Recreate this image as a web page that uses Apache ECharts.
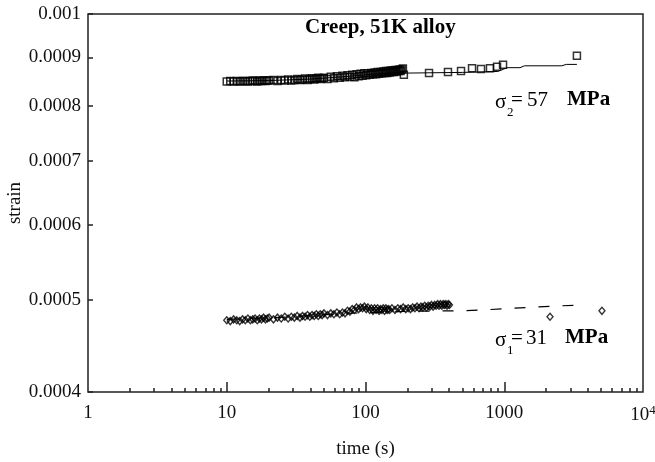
<!DOCTYPE html>
<html>
<head>
<meta charset="utf-8">
<script src="https://cdn.jsdelivr.net/npm/echarts@6/dist/echarts.min.js"></script>
<style>
html, body { margin: 0; padding: 0; background: #fff; }
#chart { width: 655px; height: 462px; }
</style>
</head>
<body>
<div id="chart"></div>
<script>
// tick values (time in s, strain)
var xTicks = [1, 10, 100, 1000, 10000];
var xTickLabels = ['1', '10', '100', '1000', '10{sup|4}'];
var yTicks = [0.0004, 0.0005, 0.0006, 0.0007, 0.0008, 0.0009, 0.001];
var yTickLabels = ['0.0004', '0.0005', '0.0006', '0.0007', '0.0008', '0.0009', '0.001'];

// sigma2 = 57 MPa, measured points (squares), strain in units of 1e-4
var upTime = [10, 10.6, 11.2, 11.8, 12.4, 13, 13.6, 14.2, 14.8, 15.4, 16, 16.6, 17.2, 17.8, 18.4, 19, 19.6,
    20.2, 21.7, 23.2, 24.7, 26.2, 27.7, 29.2, 30.7, 32.2, 33.7, 35.2, 36.7, 38.2, 39.7, 41.2, 42.7, 44.2, 45.7, 47.2, 48.7,
    50.2, 53.2, 56.2, 59.2, 62.2, 65.2, 68.2, 71.2, 74.2, 77.2, 80.2, 83.2, 86.2, 89.2, 92.2, 95.2, 98.2, 101.2, 104.2, 107.2,
    110.2, 113.2, 116.2, 119.2, 122.2, 125.2, 128.2, 131.2, 134.2, 137.2, 140.2, 143.2, 146.2, 149.2, 152.2, 155.2, 158.2,
    161.2, 164.2, 167.2, 170.2, 173.2, 176.2, 179.2, 182.2,
    186, 189, 287, 393, 488, 586, 680, 789, 887, 980, 3340];
var upStrain = [8.49, 8.50, 8.49, 8.50, 8.49, 8.50, 8.50, 8.49, 8.50, 8.51, 8.50, 8.49, 8.51, 8.50, 8.51, 8.50, 8.51,
    8.51, 8.52, 8.50, 8.52, 8.51, 8.53, 8.51, 8.52, 8.54, 8.52, 8.53, 8.55, 8.52, 8.54, 8.56, 8.53, 8.55, 8.57, 8.54, 8.56,
    8.57, 8.54, 8.59, 8.56, 8.60, 8.57, 8.61, 8.58, 8.62, 8.59, 8.63, 8.58, 8.64, 8.60, 8.65, 8.61, 8.66, 8.62, 8.66, 8.63,
    8.67, 8.64, 8.68, 8.64, 8.69, 8.65, 8.69, 8.66, 8.70, 8.67, 8.71, 8.67, 8.71, 8.68, 8.72, 8.69, 8.72,
    8.69, 8.73, 8.70, 8.73, 8.71, 8.74, 8.71, 8.74,
    8.76, 8.63, 8.67, 8.69, 8.71, 8.77, 8.75, 8.77, 8.80, 8.84, 9.04];
// sigma2 model curve (solid)
var upFitTime = [10, 20, 40, 70, 100, 150, 190, 500, 900, 1050, 1300, 1400, 2600, 2800, 3340];
var upFitStrain = [8.50, 8.51, 8.54, 8.59, 8.63, 8.67, 8.665, 8.68, 8.70, 8.78, 8.78, 8.82, 8.82, 8.85, 8.85];

// sigma1 = 31 MPa, measured points (diamonds), strain in units of 1e-4
var lowTime = [10, 10.6, 11.2, 11.8, 12.4, 13, 13.6, 14.2, 14.8, 15.4, 16, 16.6, 17.2, 17.8, 18.4, 19, 19.6,
    20.2, 21.7, 23.2, 24.7, 26.2, 27.7, 29.2, 30.7, 32.2, 33.7, 35.2, 36.7, 38.2, 39.7, 41.2, 42.7, 44.2, 45.7, 47.2, 48.7,
    50.2, 53.2, 56.2, 59.2, 62.2, 65.2, 68.2, 71.2, 74.2, 77.2, 80.2, 83.2, 86.2, 89.2, 92.2, 95.2, 98.2, 101.2, 104.2, 107.2,
    110.2, 113.2, 116.2, 119.2, 122.2, 125.2, 128.2, 131.2, 134.2, 137.2, 140.2, 143.2, 146.2, 149.2,
    155, 163, 171, 179, 187, 195, 203, 211, 219, 227, 235, 243, 251, 259, 267, 275, 283, 291, 299, 307, 315, 323,
    331, 339, 347, 355, 363, 371, 379, 387, 395, 403,
    2137, 5060];
var lowStrain = [4.76, 4.75, 4.77, 4.76, 4.75, 4.77, 4.76, 4.78, 4.76, 4.77, 4.78, 4.76, 4.78, 4.77, 4.79, 4.77, 4.78,
    4.79, 4.77, 4.79, 4.78, 4.80, 4.78, 4.80, 4.79, 4.81, 4.79, 4.81, 4.80, 4.82, 4.80, 4.82, 4.81, 4.83, 4.81, 4.83, 4.82,
    4.84, 4.82, 4.84, 4.83, 4.85, 4.83, 4.85, 4.84, 4.87, 4.86, 4.89, 4.88, 4.91, 4.89, 4.91, 4.90, 4.92, 4.89, 4.91, 4.88,
    4.90, 4.87, 4.90, 4.88, 4.90, 4.87, 4.89, 4.88, 4.90, 4.87, 4.90, 4.88, 4.89, 4.88,
    4.90, 4.88, 4.90, 4.89, 4.91, 4.89, 4.90, 4.89, 4.91, 4.90, 4.92, 4.90, 4.92, 4.91, 4.93, 4.91, 4.93, 4.92, 4.94, 4.92, 4.94, 4.93,
    4.95, 4.93, 4.95, 4.93, 4.95, 4.94, 4.95, 4.93, 4.95, 4.94,
    4.80, 4.87];
// sigma1 model curve (dashed)
var lowFitTime = [10, 30, 70, 120, 200, 480, 700, 1000, 1500, 2200, 3700];
var lowFitStrain = [4.77, 4.80, 4.84, 4.85, 4.865, 4.87, 4.88, 4.895, 4.91, 4.925, 4.94];

var FONT = '"Liberation Serif", "Times New Roman", serif';

function toLogPairs(t, s) {
    return t.map(function (v, i) {
        return [Math.log10(v), Math.log10(s[i] * 1e-4)];
    });
}

var xMajorLog = xTicks.map(Math.log10);
var xMinorLog = [];
for (var d = 0; d < 4; d++) {
    for (var k = 2; k <= 9; k++) {
        xMinorLog.push(Math.log10(k * Math.pow(10, d)));
    }
}
var yLog = yTicks.map(Math.log10);

function pickLabel(v, pos, labels) {
    var best = 0;
    for (var i = 1; i < pos.length; i++) {
        if (Math.abs(pos[i] - v) < Math.abs(pos[best] - v)) best = i;
    }
    return labels[best];
}

function txt(x, y, text, font) {
    return { type: 'text', x: x, y: y, style: { text: text, font: font, fill: '#000', verticalAlign: 'middle' } };
}

var chart = echarts.init(document.getElementById('chart'));
var option = {
    animation: false,
    backgroundColor: '#fff',
    grid: {
        left: 88, right: 12, top: 14, bottom: 70,
        outerBoundsMode: 'none',
        show: true, borderColor: '#222', borderWidth: 1.5, backgroundColor: 'transparent'
    },
    xAxis: [
        {
            type: 'value', min: 0, max: 4,
            name: 'time (s)', nameLocation: 'middle', nameGap: 48,
            nameTextStyle: { fontFamily: FONT, fontSize: 19, color: '#111' },
            axisLine: { show: false },
            splitLine: { show: false },
            axisTick: {
                show: true, inside: true, length: 10,
                customValues: xMajorLog.slice(1, 4),
                lineStyle: { color: '#222', width: 1.5 }
            },
            axisLabel: {
                customValues: xMajorLog,
                margin: 12,
                fontFamily: FONT, fontSize: 19, color: '#111',
                formatter: function (v) { return pickLabel(v, xMajorLog, xTickLabels); },
                rich: {
                    sup: { fontFamily: FONT, fontSize: 13, color: '#111', padding: [0, 0, 10, 0] }
                }
            }
        },
        {
            type: 'value', min: 0, max: 4, position: 'bottom',
            axisLine: { show: false },
            splitLine: { show: false },
            axisLabel: { show: false },
            axisTick: {
                show: true, inside: true, length: 4,
                customValues: xMinorLog,
                lineStyle: { color: '#222', width: 1.5 }
            }
        }
    ],
    yAxis: {
        type: 'value', min: yLog[0], max: yLog[yLog.length - 1],
        axisLine: { show: false },
        splitLine: { show: false },
        axisTick: {
            show: true, inside: true, length: 5,
            customValues: yLog,
            lineStyle: { color: '#222', width: 1.5 }
        },
        axisLabel: {
            customValues: yLog,
            margin: 7,
            fontFamily: FONT, fontSize: 19, color: '#111',
            formatter: function (v) { return pickLabel(v, yLog, yTickLabels); }
        }
    },
    series: [
        {
            type: 'line', data: toLogPairs(upFitTime, upFitStrain),
            showSymbol: false, smooth: false, z: 1,
            lineStyle: { color: '#000', width: 1 }
        },
        {
            type: 'scatter', data: toLogPairs(upTime, upStrain),
            symbol: 'rect', symbolSize: 7, z: 3,
            itemStyle: { color: 'rgba(255,255,255,0)', borderColor: '#000', borderWidth: 1.5 }
        },
        {
            type: 'line', data: toLogPairs(lowFitTime, lowFitStrain),
            showSymbol: false, smooth: false, z: 1,
            lineStyle: { color: '#000', width: 1.2, type: [11, 13] }
        },
        {
            type: 'scatter', data: toLogPairs(lowTime, lowStrain),
            symbol: 'diamond', symbolSize: [6, 7], z: 3,
            itemStyle: { color: 'rgba(255,255,255,0)', borderColor: '#000', borderWidth: 1.4 }
        }
    ],
    graphic: [
        {
            type: 'text', left: 305, top: 17,
            style: { text: 'Creep, 51K alloy', font: 'bold 21px ' + FONT, fill: '#000' }
        },
        // y axis title
        {
            type: 'text', x: 15, y: 203, rotation: Math.PI / 2,
            style: { text: 'strain', font: '19px ' + FONT, fill: '#111', align: 'center', verticalAlign: 'middle' }
        },
        // sigma2 label
        txt(495, 102, 'σ', '21px ' + FONT),
        txt(507, 113, '2', '13px ' + FONT),
        txt(511, 100, '=', '21px ' + FONT),
        txt(527, 100, '57', '21px ' + FONT),
        txt(567, 100, 'MPa', 'bold 21px ' + FONT),
        // sigma1 label
        txt(495, 340, 'σ', '21px ' + FONT),
        txt(507, 351, '1', '13px ' + FONT),
        txt(511, 338, '=', '21px ' + FONT),
        txt(526, 338, '31', '21px ' + FONT),
        txt(565, 338, 'MPa', 'bold 21px ' + FONT)
    ]
};
chart.setOption(option);
</script>
</body>
</html>
